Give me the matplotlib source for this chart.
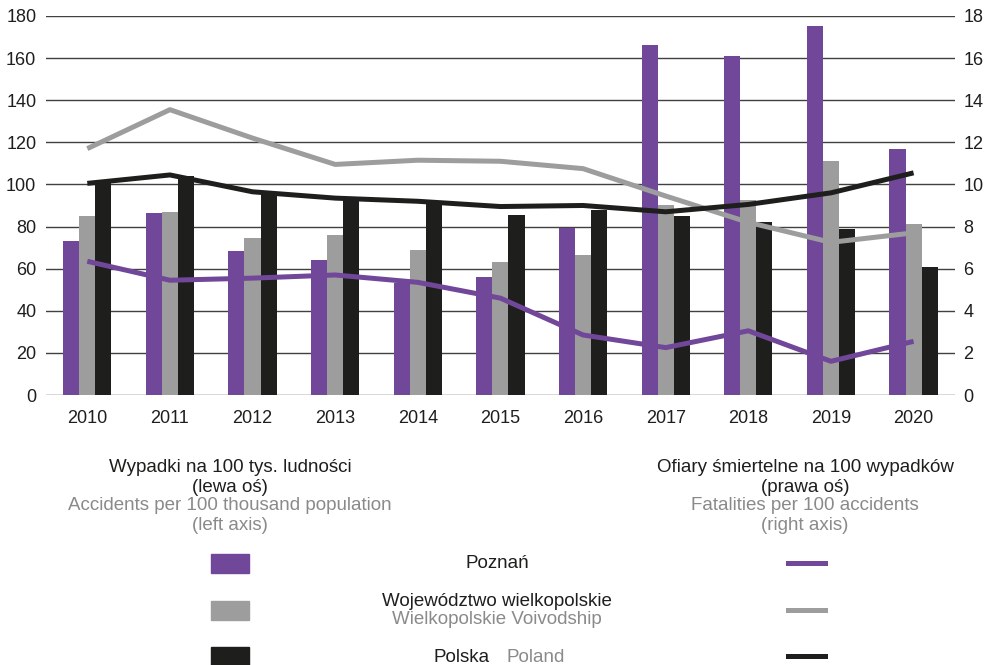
import numpy as np
import matplotlib
matplotlib.use("Agg")
import matplotlib.pyplot as plt

plt.rcParams['font.family'] = ['Liberation Sans', 'DejaVu Sans']

years = ['2010', '2011', '2012', '2013', '2014', '2015', '2016', '2017', '2018', '2019', '2020']

# accidents per 100 thousand population (left axis)
acc_poznan = [73, 86.5, 68.5, 64, 53, 56, 79.3, 166, 161, 175, 117]
acc_wlkp = [85, 87, 74.5, 76, 69, 63, 66.5, 90, 92.5, 111, 81]
acc_polska = [100.5, 104, 95.5, 93, 90.5, 85.5, 88, 85, 82, 79, 61]

# fatalities per 100 accidents (right axis)
fat_poznan = [6.35, 5.45, 5.55, 5.7, 5.35, 4.6, 2.85, 2.25, 3.05, 1.6, 2.55]
fat_wlkp = [11.7, 13.55, 12.2, 10.95, 11.15, 11.1, 10.75, 9.45, 8.2, 7.25, 7.7]
fat_polska = [10.05, 10.45, 9.65, 9.35, 9.2, 8.95, 9.0, 8.7, 9.05, 9.6, 10.55]

PURPLE = '#71479a'
GREY = '#9d9d9d'
BLACK = '#1e1e1c'
LIGHT = '#8a8a8a'

fig = plt.figure(figsize=(9.89, 6.65), dpi=100)
ax = fig.add_axes([0.0465, 0.406, 0.919, 0.570])
ax2 = ax.twinx()

x = np.arange(len(years))
w = 0.195
ax.bar(x - w, acc_poznan, w, color=PURPLE, zorder=2)
ax.bar(x, acc_wlkp, w, color=GREY, zorder=2)
ax.bar(x + w, acc_polska, w, color=BLACK, zorder=2)

ax.set_ylim(0, 180)
ax.set_yticks(range(0, 181, 20))
ax.set_xlim(-0.5, 10.5)
ax.set_xticks(x)
ax.set_xticklabels(years)
ax.yaxis.grid(True, color='#404040', linewidth=1.0, zorder=0)
ax.set_axisbelow(True)

ax2.plot(x, fat_wlkp, color=GREY, lw=3.6, solid_capstyle='butt')
ax2.plot(x, fat_polska, color=BLACK, lw=3.6, solid_capstyle='butt')
ax2.plot(x, fat_poznan, color=PURPLE, lw=3.6, solid_capstyle='butt')
ax2.set_ylim(0, 18)
ax2.set_yticks(range(0, 19, 2))

for a in (ax, ax2):
    for s in a.spines.values():
        s.set_visible(False)
    a.tick_params(length=0, labelsize=13, colors='#1e1e1c')
ax.tick_params(axis='x', pad=11)
ax.tick_params(axis='y', pad=7)
ax2.tick_params(axis='y', pad=6)

# legend area
fs = 13.5
def ftext(xp, yp, s, c='#1e1e1c'):
    fig.text(xp / 989, 1 - yp / 665, s, ha='center', va='center', fontsize=fs, color=c)

ftext(230, 468, 'Wypadki na 100 tys. ludności')
ftext(230, 487, '(lewa oś)')
ftext(230, 506, 'Accidents per 100 thousand population', LIGHT)
ftext(230, 525, '(left axis)', LIGHT)
ftext(805, 468, 'Ofiary śmiertelne na 100 wypadków')
ftext(805, 487, '(prawa oś)')
ftext(805, 506, 'Fatalities per 100 accidents', LIGHT)
ftext(805, 525, '(right axis)', LIGHT)

rows = [(563, PURPLE), (610, GREY), (656, BLACK)]
for yp, col in rows:
    fig.patches.append(plt.Rectangle((211 / 989, 1 - (yp + 9.5) / 665), 38 / 989, 19 / 665,
                                     transform=fig.transFigure, color=col))
    fig.add_artist(plt.Line2D([788 / 989, 825 / 989], [1 - yp / 665, 1 - yp / 665],
                              transform=fig.transFigure, color=col, lw=3.6))

ftext(497, 563, 'Poznań')
ftext(497, 601, 'Województwo wielkopolskie')
ftext(497, 619, 'Wielkopolskie Voivodship', LIGHT)
fig.text(490 / 989, 1 - 657 / 665, 'Polska', ha='right', va='center', fontsize=fs, color='#1e1e1c')
fig.text(507 / 989, 1 - 657 / 665, 'Poland', ha='left', va='center', fontsize=fs, color=LIGHT)

fig.savefig('out.png', dpi=100)
